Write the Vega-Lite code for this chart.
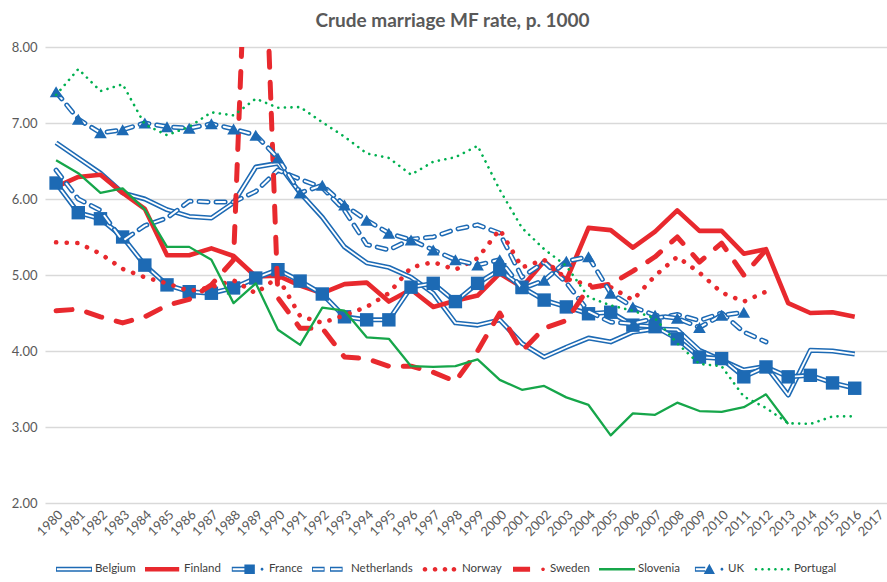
{
  "$schema": "https://vega.github.io/schema/vega-lite/v6.json",
  "width": 843,
  "height": 456,
  "autosize": {"type": "none"},
  "padding": {"left": 45, "top": 47, "right": 0, "bottom": 79},
  "background": "white",
  "title": {"text": "Crude marriage MF rate, p. 1000", "fontSize": 19, "font": "Lato", "fontWeight": "bold", "color": "#595959", "anchor": "middle", "frame": "group", "offset": -5, "dx": -14, "baseline": "alphabetic"},
  "config": {"view": {"stroke": null}, "font": "Lato"},
  "layer": [
    {
      "data": {"values": [
        {"year": 1980, "Belgium": 6.74, "Finland": 6.16, "France": 6.21, "Netherlands": 6.38, "Norway": 5.43, "Sweden": 4.53, "Slovenia": 6.51, "UK": 7.41, "Portugal": 7.37},
        {"year": 1981, "Belgium": 6.54, "Finland": 6.29, "France": 5.82, "Netherlands": 6.00, "Norway": 5.42, "Sweden": 4.55, "Slovenia": 6.34, "UK": 7.05, "Portugal": 7.71},
        {"year": 1982, "Belgium": 6.34, "Finland": 6.32, "France": 5.74, "Netherlands": 5.85, "Norway": 5.28, "Sweden": 4.45, "Slovenia": 6.08, "UK": 6.87, "Portugal": 7.42},
        {"year": 1983, "Belgium": 6.08, "Finland": 6.08, "France": 5.50, "Netherlands": 5.45, "Norway": 5.08, "Sweden": 4.37, "Slovenia": 6.14, "UK": 6.91, "Portugal": 7.51},
        {"year": 1984, "Belgium": 6.00, "Finland": 5.87, "France": 5.13, "Netherlands": 5.65, "Norway": 4.97, "Sweden": 4.45, "Slovenia": 5.86, "UK": 7.00, "Portugal": 6.98},
        {"year": 1985, "Belgium": 5.86, "Finland": 5.26, "France": 4.87, "Netherlands": 5.75, "Norway": 4.89, "Sweden": 4.60, "Slovenia": 5.37, "UK": 6.95, "Portugal": 6.84},
        {"year": 1986, "Belgium": 5.77, "Finland": 5.26, "France": 4.78, "Netherlands": 5.97, "Norway": 4.79, "Sweden": 4.68, "Slovenia": 5.37, "UK": 6.93, "Portugal": 6.95},
        {"year": 1987, "Belgium": 5.75, "Finland": 5.35, "France": 4.76, "Netherlands": 5.96, "Norway": 4.84, "Sweden": 4.87, "Slovenia": 5.20, "UK": 6.99, "Portugal": 7.14},
        {"year": 1988, "Belgium": 5.95, "Finland": 5.25, "France": 4.83, "Netherlands": 5.96, "Norway": 4.93, "Sweden": 5.20, "Slovenia": 4.63, "UK": 6.92, "Portugal": 7.10},
        {"year": 1989, "Belgium": 6.42, "Finland": 4.98, "France": 4.96, "Netherlands": 6.10, "Norway": 4.76, "Sweden": 12.8, "Slovenia": 4.89, "UK": 6.84, "Portugal": 7.32},
        {"year": 1990, "Belgium": 6.47, "Finland": 4.99, "France": 5.07, "Netherlands": 6.38, "Norway": 4.97, "Sweden": 4.70, "Slovenia": 4.28, "UK": 6.54, "Portugal": 7.20},
        {"year": 1991, "Belgium": 6.08, "Finland": 4.86, "France": 4.92, "Netherlands": 6.26, "Norway": 4.46, "Sweden": 4.30, "Slovenia": 4.08, "UK": 6.08, "Portugal": 7.21},
        {"year": 1992, "Belgium": 5.76, "Finland": 4.76, "France": 4.75, "Netherlands": 6.15, "Norway": 4.37, "Sweden": 4.30, "Slovenia": 4.57, "UK": 6.18, "Portugal": 7.01},
        {"year": 1993, "Belgium": 5.37, "Finland": 4.88, "France": 4.45, "Netherlands": 5.85, "Norway": 4.47, "Sweden": 3.92, "Slovenia": 4.53, "UK": 5.92, "Portugal": 6.82},
        {"year": 1994, "Belgium": 5.16, "Finland": 4.90, "France": 4.41, "Netherlands": 5.40, "Norway": 4.58, "Sweden": 3.90, "Slovenia": 4.18, "UK": 5.72, "Portugal": 6.60},
        {"year": 1995, "Belgium": 5.10, "Finland": 4.65, "France": 4.41, "Netherlands": 5.33, "Norway": 4.76, "Sweden": 3.80, "Slovenia": 4.16, "UK": 5.55, "Portugal": 6.54},
        {"year": 1996, "Belgium": 4.97, "Finland": 4.81, "France": 4.84, "Netherlands": 5.47, "Norway": 5.10, "Sweden": 3.80, "Slovenia": 3.80, "UK": 5.46, "Portugal": 6.32},
        {"year": 1997, "Belgium": 4.76, "Finland": 4.58, "France": 4.89, "Netherlands": 5.50, "Norway": 5.17, "Sweden": 3.72, "Slovenia": 3.79, "UK": 5.33, "Portugal": 6.49},
        {"year": 1998, "Belgium": 4.37, "Finland": 4.66, "France": 4.65, "Netherlands": 5.60, "Norway": 5.07, "Sweden": 3.60, "Slovenia": 3.80, "UK": 5.20, "Portugal": 6.55},
        {"year": 1999, "Belgium": 4.34, "Finland": 4.73, "France": 4.89, "Netherlands": 5.66, "Norway": 5.22, "Sweden": 4.00, "Slovenia": 3.89, "UK": 5.13, "Portugal": 6.70},
        {"year": 2000, "Belgium": 4.41, "Finland": 5.02, "France": 5.07, "Netherlands": 5.55, "Norway": 5.60, "Sweden": 4.50, "Slovenia": 3.62, "UK": 5.20, "Portugal": 6.12},
        {"year": 2001, "Belgium": 4.10, "Finland": 4.84, "France": 4.84, "Netherlands": 4.97, "Norway": 5.10, "Sweden": 4.00, "Slovenia": 3.49, "UK": 4.82, "Portugal": 5.62},
        {"year": 2002, "Belgium": 3.92, "Finland": 5.18, "France": 4.67, "Netherlands": 5.17, "Norway": 5.20, "Sweden": 4.30, "Slovenia": 3.54, "UK": 4.93, "Portugal": 5.34},
        {"year": 2003, "Belgium": 4.05, "Finland": 4.93, "France": 4.58, "Netherlands": 4.90, "Norway": 4.95, "Sweden": 4.40, "Slovenia": 3.39, "UK": 5.18, "Portugal": 5.12},
        {"year": 2004, "Belgium": 4.17, "Finland": 5.62, "France": 4.49, "Netherlands": 4.52, "Norway": 4.87, "Sweden": 4.83, "Slovenia": 3.29, "UK": 5.24, "Portugal": 4.71},
        {"year": 2005, "Belgium": 4.12, "Finland": 5.59, "France": 4.51, "Netherlands": 4.38, "Norway": 4.84, "Sweden": 4.88, "Slovenia": 2.89, "UK": 4.76, "Portugal": 4.60},
        {"year": 2006, "Belgium": 4.25, "Finland": 5.36, "France": 4.34, "Netherlands": 4.36, "Norway": 4.67, "Sweden": 5.05, "Slovenia": 3.18, "UK": 4.58, "Portugal": 4.53},
        {"year": 2007, "Belgium": 4.29, "Finland": 5.57, "France": 4.32, "Netherlands": 4.43, "Norway": 4.99, "Sweden": 5.24, "Slovenia": 3.16, "UK": 4.47, "Portugal": 4.43},
        {"year": 2008, "Belgium": 4.28, "Finland": 5.85, "France": 4.16, "Netherlands": 4.48, "Norway": 5.24, "Sweden": 5.50, "Slovenia": 3.32, "UK": 4.43, "Portugal": 4.10},
        {"year": 2009, "Belgium": 4.01, "Finland": 5.58, "France": 3.92, "Netherlands": 4.40, "Norway": 5.03, "Sweden": 5.17, "Slovenia": 3.21, "UK": 4.31, "Portugal": 3.83},
        {"year": 2010, "Belgium": 3.88, "Finland": 5.58, "France": 3.90, "Netherlands": 4.50, "Norway": 4.77, "Sweden": 5.42, "Slovenia": 3.20, "UK": 4.47, "Portugal": 3.80},
        {"year": 2011, "Belgium": 3.75, "Finland": 5.28, "France": 3.66, "Netherlands": 4.25, "Norway": 4.65, "Sweden": 5.00, "Slovenia": 3.26, "UK": 4.51, "Portugal": 3.40},
        {"year": 2012, "Belgium": 3.80, "Finland": 5.34, "France": 3.79, "Netherlands": 4.12, "Norway": 4.78, "Sweden": 5.33, "Slovenia": 3.43, "Portugal": 3.25},
        {"year": 2013, "Belgium": 3.42, "Finland": 4.63, "France": 3.66, "Slovenia": 3.04, "Portugal": 3.05},
        {"year": 2014, "Belgium": 4.01, "Finland": 4.50, "France": 3.68, "Portugal": 3.04},
        {"year": 2015, "Belgium": 4.00, "Finland": 4.51, "France": 3.58, "Portugal": 3.14},
        {"year": 2016, "Belgium": 3.96, "Finland": 4.45, "France": 3.51, "Portugal": 3.14}
      ]},
      "transform": [
        {"fold": ["Belgium", "Finland", "France", "Netherlands", "Norway", "Sweden", "Slovenia", "UK", "Portugal"], "as": ["country", "value"]}
      ],
      "encoding": {
        "x": {
          "field": "year", "type": "ordinal",
          "scale": {"type": "point", "padding": 0.5, "domain": [1980,1981,1982,1983,1984,1985,1986,1987,1988,1989,1990,1991,1992,1993,1994,1995,1996,1997,1998,1999,2000,2001,2002,2003,2004,2005,2006,2007,2008,2009,2010,2011,2012,2013,2014,2015,2016,2017]},
          "axis": {"title": null, "labelAngle": -45, "labelFontSize": 13, "labelColor": "#595959", "labelFont": "Lato", "ticks": false, "domain": false, "grid": false, "labelPadding": 5, "labelOverlap": false}
        },
        "y": {
          "field": "value", "type": "quantitative",
          "scale": {"domain": [2, 8], "nice": false, "zero": false},
          "axis": {"title": null, "values": [2, 3, 4, 5, 6, 7, 8], "format": ".2f", "labelFontSize": 13, "labelColor": "#595959", "labelFont": "Lato", "gridColor": "#d9d9d9", "gridWidth": 1.3, "domain": false, "ticks": false, "labelPadding": 8}
        }
      },
      "layer": [
        {"transform": [{"filter": {"field": "country", "equal": "Belgium"}}], "mark": {"type": "line", "stroke": "#1D6AB4", "strokeWidth": 5, "strokeJoin": "round", "clip": true}},
        {"transform": [{"filter": {"field": "country", "equal": "Belgium"}}], "mark": {"type": "line", "stroke": "white", "strokeWidth": 1.8, "strokeJoin": "round", "clip": true}},
        {"transform": [{"filter": {"field": "country", "equal": "Finland"}}], "mark": {"type": "line", "stroke": "#E8292E", "strokeWidth": 4.6, "strokeJoin": "round", "clip": true}},
        {"transform": [{"filter": {"field": "country", "equal": "France"}}], "mark": {"type": "line", "stroke": "#1D6AB4", "strokeWidth": 5, "strokeJoin": "round", "clip": true}},
        {"transform": [{"filter": {"field": "country", "equal": "France"}}], "mark": {"type": "line", "stroke": "white", "strokeWidth": 1.8, "strokeJoin": "round", "clip": true}},
        {"transform": [{"filter": {"field": "country", "equal": "France"}}], "mark": {"type": "point", "shape": "square", "filled": true, "size": 180, "color": "#1D6AB4", "opacity": 1, "clip": true}},
        {"transform": [{"filter": {"field": "country", "equal": "Netherlands"}}], "mark": {"type": "line", "stroke": "#1D6AB4", "strokeWidth": 5, "strokeDash": [9, 8], "strokeCap": "round", "strokeJoin": "round", "clip": true}},
        {"transform": [{"filter": {"field": "country", "equal": "Netherlands"}}], "mark": {"type": "line", "stroke": "white", "strokeWidth": 2, "strokeDash": [9, 8], "strokeCap": "round", "strokeJoin": "round", "clip": true}},
        {"transform": [{"filter": {"field": "country", "equal": "Norway"}}], "mark": {"type": "line", "stroke": "#E8292E", "strokeWidth": 4.6, "strokeDash": [0.1, 10.5], "strokeCap": "round", "clip": true}},
        {"transform": [{"filter": {"field": "country", "equal": "Sweden"}}], "mark": {"type": "line", "stroke": "#E8292E", "strokeWidth": 5, "strokeDash": [16, 15], "strokeCap": "round", "strokeJoin": "round", "clip": true}},
        {"transform": [{"filter": {"field": "country", "equal": "Slovenia"}}], "mark": {"type": "line", "stroke": "#16A64A", "strokeWidth": 2.3, "strokeJoin": "round", "clip": true}},
        {"transform": [{"filter": {"field": "country", "equal": "UK"}}], "mark": {"type": "line", "stroke": "#1D6AB4", "strokeWidth": 5, "strokeDash": [9, 8], "strokeCap": "round", "strokeJoin": "round", "clip": true}},
        {"transform": [{"filter": {"field": "country", "equal": "UK"}}], "mark": {"type": "line", "stroke": "white", "strokeWidth": 2, "strokeDash": [9, 8], "strokeCap": "round", "strokeJoin": "round", "clip": true}},
        {"transform": [{"filter": {"field": "country", "equal": "UK"}}], "mark": {"type": "point", "shape": "triangle-up", "filled": true, "size": 160, "color": "#1D6AB4", "opacity": 1, "clip": true}},
        {"transform": [{"filter": {"field": "country", "equal": "Portugal"}}], "mark": {"type": "line", "stroke": "#00B050", "strokeWidth": 2.6, "strokeDash": [0.1, 6.5], "strokeCap": "round", "clip": true}}
      ]
    },
    {
      "data": {"values": [
        {"country": "Belgium"}, {"country": "Finland"}, {"country": "France"}, {"country": "Netherlands"}, {"country": "Norway"}, {"country": "Sweden"}, {"country": "Slovenia"}, {"country": "UK"}, {"country": "Portugal"}
      ]},
      "mark": {"type": "point", "filled": true, "opacity": 0, "strokeWidth": 0},
      "encoding": {
        "fill": {
          "field": "country", "type": "nominal",
          "scale": {"domain": ["Belgium", "Finland", "France", "Netherlands", "Norway", "Sweden", "Slovenia", "UK", "Portugal"], "range": ["#1D6AB4", "#E8292E", "#1D6AB4", "#1D6AB4", "#E8292E", "#E8292E", "#16A64A", "#1D6AB4", "#00B050"]},
          "legend": {"orient": "none", "legendX": 11, "legendY": 504, "direction": "horizontal", "columns": 9, "title": null, "symbolSize": 1296, "symbolOpacity": 1, "symbolStrokeWidth": 0, "labelFontSize": 11.5, "labelFont": "Lato", "labelColor": "#404040", "labelOffset": 3, "columnPadding": 9}
        },
        "shape": {
          "field": "country", "type": "nominal",
          "scale": {"domain": ["Belgium", "Finland", "France", "Netherlands", "Norway", "Sweden", "Slovenia", "UK", "Portugal"], "range": [
            "M-1,-0.14H1V0.14H-1Z M-0.95,-0.055V0.055H0.95V-0.055Z",
            "M-1,-0.13H0.9V0.13H-1Z",
            "M-0.9,-0.14H-0.15V0.14H-0.9Z M-0.85,-0.055V0.055H-0.15V-0.055Z M-0.2,-0.26H0.38V0.26H-0.2Z M0.7,0A0.08,0.08 0 1,0 0.86,0A0.08,0.08 0 1,0 0.7,0Z",
            "M-1,-0.14H-0.3V0.14H-1Z M-0.95,-0.055V0.055H-0.35V-0.055Z M0,-0.14H0.7V0.14H0Z M0.05,-0.055V0.055H0.65V-0.055Z",
            "M-1.02,0A0.13,0.13 0 1,0 -0.76,0A0.13,0.13 0 1,0 -1.02,0Z M-0.46,0A0.13,0.13 0 1,0 -0.2,0A0.13,0.13 0 1,0 -0.46,0Z M0.09,0A0.13,0.13 0 1,0 0.35,0A0.13,0.13 0 1,0 0.09,0Z M0.59,0A0.13,0.13 0 1,0 0.85,0A0.13,0.13 0 1,0 0.59,0Z",
            "M-0.89,-0.14H0.06V0.14H-0.89Z M0.68,0A0.1,0.1 0 1,0 0.88,0A0.1,0.1 0 1,0 0.68,0Z",
            "M-1,-0.065H1V0.065H-1Z",
            "M-0.67,-0.14H-0.1V0.14H-0.67Z M-0.62,-0.055V0.055H-0.1V-0.055Z M-0.18,0.26L0.13,-0.3L0.44,0.26Z M0.75,0A0.08,0.08 0 1,0 0.91,0A0.08,0.08 0 1,0 0.75,0Z",
            "M-1.02,0A0.075,0.075 0 1,0 -0.87,0A0.075,0.075 0 1,0 -1.02,0Z M-0.66,0A0.075,0.075 0 1,0 -0.51,0A0.075,0.075 0 1,0 -0.66,0Z M-0.3,0A0.075,0.075 0 1,0 -0.15,0A0.075,0.075 0 1,0 -0.3,0Z M0.06,0A0.075,0.075 0 1,0 0.21,0A0.075,0.075 0 1,0 0.06,0Z M0.42,0A0.075,0.075 0 1,0 0.57,0A0.075,0.075 0 1,0 0.42,0Z M0.78,0A0.075,0.075 0 1,0 0.93,0A0.075,0.075 0 1,0 0.78,0Z"
          ]},
          "legend": {"orient": "none", "legendX": 11, "legendY": 504, "direction": "horizontal", "columns": 9, "title": null, "symbolSize": 1296, "symbolOpacity": 1, "symbolStrokeWidth": 0, "labelFontSize": 11.5, "labelFont": "Lato", "labelColor": "#404040", "labelOffset": 3, "columnPadding": 9}
        }
      }
    }
  ]
}
